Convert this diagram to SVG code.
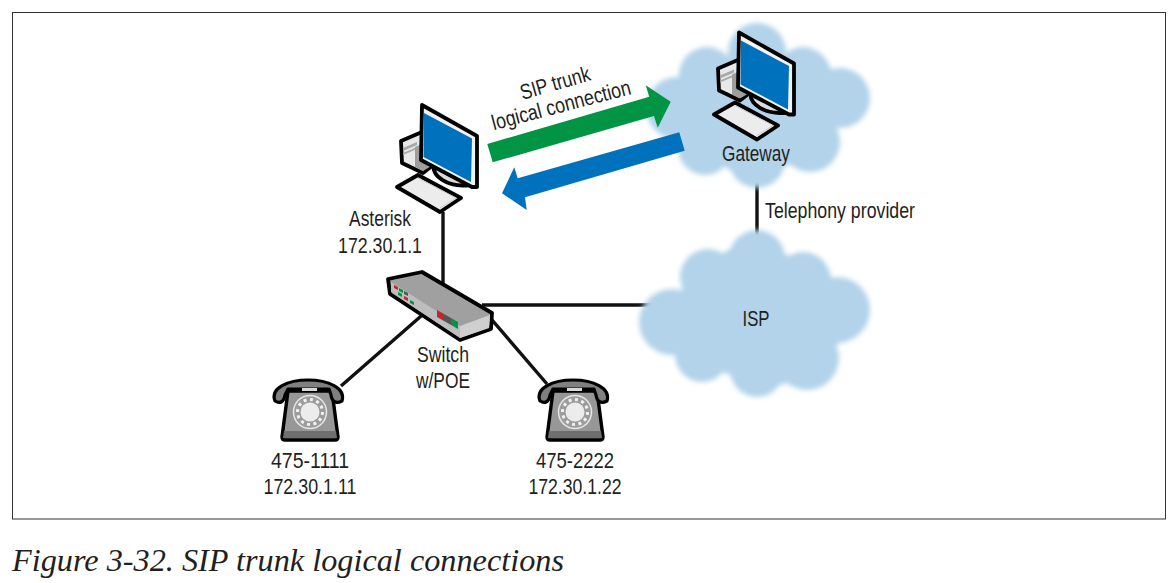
<svg xmlns="http://www.w3.org/2000/svg" xmlns:xlink="http://www.w3.org/1999/xlink" width="1172" height="583" viewBox="0 0 1172 583">
<style>
text{font-family:"Liberation Sans",Arial,sans-serif;fill:#231f20;font-size:21.5px;text-anchor:middle}
.cloud{fill:#b2d3ea;filter:url(#soft)}
.wire{stroke:#111;stroke-width:3.4;fill:none}
.ol{stroke:#000;stroke-width:3.8;stroke-linejoin:round}
</style>
<defs>
<filter id="soft" x="-10%" y="-10%" width="120%" height="120%"><feGaussianBlur stdDeviation="2.6"/></filter>
<g id="pc">
<path class="ol" d="M401 141L422 132L432 166L423 173L402 163Z" fill="#e8e8e8"/>
<path d="M403 148L417 142V145L403 151ZM403 153L417 147V149L403 155Z" fill="#a8a8a8"/>
<path d="M415 147L424 143L433 165L423 171L415 167Z" fill="#9e9e9e"/>
<path class="ol" d="M434 164C431 176 448 188 470 185L440 166Z" fill="#dcdcdc"/>
<path class="ol" d="M397 187L418 175L461 198L440 212Z" fill="#ececec"/>
<path d="M418 178L456 198L440 208" fill="none" stroke="#c4c4c4" stroke-width=".8"/>
<path class="ol" d="M422 105L477 136V187L472 187L421 160Z" fill="#f2f2f2"/>
<path d="M424 113L472 138.500L471 182L423.500 157Z" fill="#0071bc"/>
</g>
<g id="phone">
<path d="M288 391H332L338 437Q338 440 335 440H285Q282 440 282 437Z" fill="#979797" stroke="#000" stroke-width="3.4" stroke-linejoin="round"/>
<path d="M284 431H336L337 438H283Z" fill="#6f6f6f"/>
<path d="M275 401C270 388 288 380 308 380C328 380 346 388 342 401C336 404 332 402 331 395L329 389H288L285 395C284 402 280 404 275 401Z" fill="#808080" stroke="#000" stroke-width="3.2" stroke-linejoin="round"/>
<path d="M302 388H317V391H302Z" fill="#d9d9d9"/>
<circle cx="310" cy="412" r="16.500" fill="#9c9c9c" stroke="#e6e6e6" stroke-width="1.500"/>
<circle cx="310" cy="412" r="9.500" fill="#ececec"/>
<circle cx="310" cy="412" r="12.500" fill="none" stroke="#f2f2f2" stroke-width="3" stroke-dasharray="3 3.500"/>
</g>
</defs>
<rect width="1172" height="583" fill="#fff"/>
<rect x="12.500" y="12.500" width="1153" height="506.500" fill="none" stroke="#333" stroke-width="1"/>
<g id="connectors">
<path class="wire" d="M443 212V285"/>
<path class="wire" d="M482 305H660"/>
<path class="wire" d="M757 180V242"/>
<path class="wire" d="M428 310L341 386"/>
<path class="wire" d="M480 306L547 384"/>
</g>
<g id="gateway-cloud">
<g class="cloud">
<circle cx="757" cy="52" r="29"/><circle cx="707" cy="75" r="28"/><circle cx="677" cy="108" r="31"/><circle cx="705" cy="148" r="27"/><circle cx="757" cy="160" r="28"/><circle cx="810" cy="142" r="30"/><circle cx="840" cy="98" r="30"/><circle cx="803" cy="75" r="28"/>
<polygon points="730,55 785,55 825,75 830,140 780,170 730,170 685,140 685,85"/>
</g>
</g>
<g id="isp-cloud">
<g class="cloud">
<circle cx="757" cy="258" r="28"/><circle cx="708" cy="277" r="28"/><circle cx="672" cy="322" r="33"/><circle cx="702" cy="355" r="27"/><circle cx="757" cy="370" r="27"/><circle cx="807" cy="358" r="32"/><circle cx="837" cy="310" r="33"/><circle cx="803" cy="280" r="28"/>
<polygon points="727,250 788,255 833,280 838,345 783,385 730,375 675,355 682,290"/>
</g>
<text x="756" y="326" font-size="23" textLength="27" lengthAdjust="spacingAndGlyphs">ISP</text>
</g>
<g id="asterisk"><use xlink:href="#pc" href="#pc"/>
<text x="380" y="226" textLength="62" lengthAdjust="spacingAndGlyphs">Asterisk</text>
<text x="380" y="253" textLength="84" lengthAdjust="spacingAndGlyphs">172.30.1.1</text>
</g>
<g id="gateway"><use xlink:href="#pc" href="#pc" transform="translate(317,-72.500)"/>
<text x="756" y="161" textLength="68" lengthAdjust="spacingAndGlyphs">Gateway</text>
</g>
<g id="arrows">
<polygon points="487.300,144 492.700,162.300 654,116 657.700,127.700 670.700,101.700 645.700,85.300 649.300,96.700" fill="#009444"/>
<polygon points="679.300,132.300 684.700,150.700 525,197.300 526.700,210 502,193.300 514.300,167.300 517.700,178.300" fill="#0071bc"/>
<text x="0" y="0" transform="translate(557,90) rotate(-16)" textLength="72" lengthAdjust="spacingAndGlyphs">SIP trunk</text>
<text x="0" y="0" transform="translate(563,112) rotate(-14.700)" textLength="143" lengthAdjust="spacingAndGlyphs">logical connection</text>
</g>
<text x="840" y="218" textLength="150" lengthAdjust="spacingAndGlyphs">Telephony provider</text>
<g id="switch">
<path class="ol" d="M388 279L422 272L492 313L491 329L460 340L390 294Z" fill="#a0a0a0"/>
<path d="M391 282L460 326L460 338L391 292Z" fill="#bdbdbd"/>
<path d="M460 326L490 315L489 328L460 338Z" fill="#cfcfcf"/>
<path d="M394 285l4 2v3l-4-2z M437 310l7 4v7l-7-4z M404 296l4 2v3l-4-2z" fill="#c1272d"/>
<path d="M399 288l4 2v3l-4-2z M451 318l7 4v7l-7-4z M398 292l4 2v3l-4-2z M410 300l4 2v3l-4-2z" fill="#009444"/>
<path d="M444 314l7 4v7l-7-4z M404 291l4 2v3l-4-2z" fill="#555"/>
<text x="443" y="362" textLength="52" lengthAdjust="spacingAndGlyphs">Switch</text>
<text x="443" y="388" textLength="54" lengthAdjust="spacingAndGlyphs">w/POE</text>
</g>
<g id="phone1"><use xlink:href="#phone" href="#phone"/>
<text x="310" y="468" textLength="78" lengthAdjust="spacingAndGlyphs">475-1111</text>
<text x="310" y="494" textLength="93" lengthAdjust="spacingAndGlyphs">172.30.1.11</text>
</g>
<g id="phone2"><use xlink:href="#phone" href="#phone" transform="translate(265,0)"/>
<text x="575" y="468" textLength="78" lengthAdjust="spacingAndGlyphs">475-2222</text>
<text x="575" y="494" textLength="93" lengthAdjust="spacingAndGlyphs">172.30.1.22</text>
</g>
<text x="12" y="571" style="font-family:'Liberation Serif',serif;font-style:italic;text-anchor:start;font-size:32px" textLength="552" lengthAdjust="spacingAndGlyphs">Figure 3-32. SIP trunk logical connections</text>
</svg>
